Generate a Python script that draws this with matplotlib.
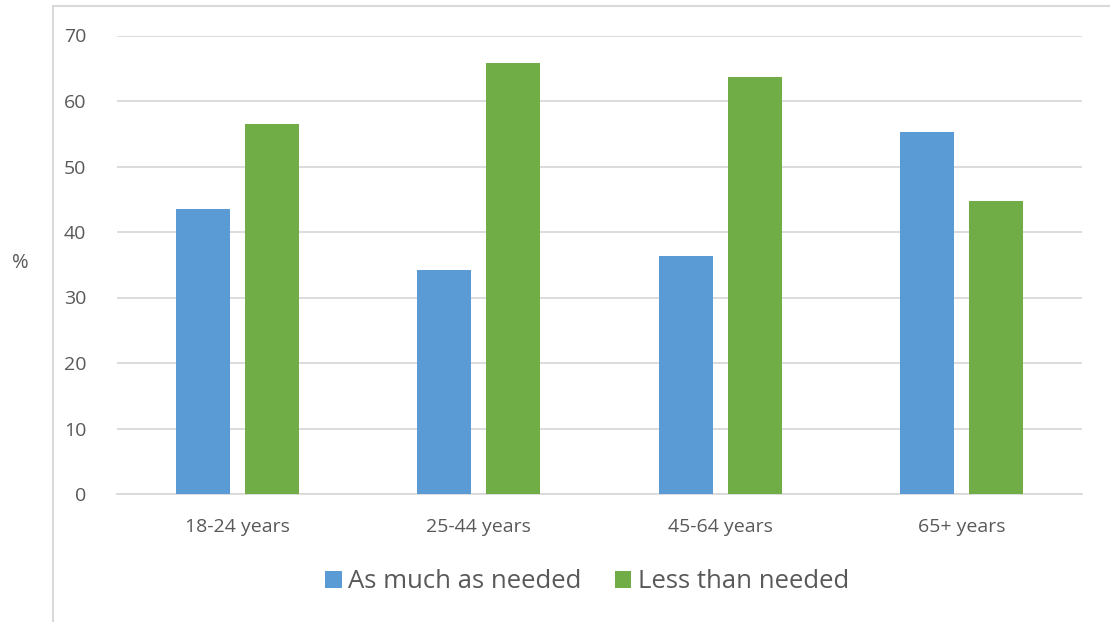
import numpy as np
import matplotlib.pyplot as plt
from matplotlib.patches import Rectangle

categories = ['18-24 years', '25-44 years', '45-64 years', '65+ years']
as_much = [43.5, 34.2, 36.3, 55.3]
less_than = [56.5, 65.8, 63.7, 44.7]
series_names = ['As much as needed', 'Less than needed']

plt.rcParams['font.family'] = ['Open Sans', 'DejaVu Sans']
txt = '#595959'
grid = '#D9D9D9'

W, H = 1110, 622
fig = plt.figure(figsize=(W / 100, H / 100), dpi=100)
ax = fig.add_axes([117 / W, 1 - 494 / H, (1082 - 117) / W, (494 - 35.5) / H])

# chart border (only left and top visible in the crop)
fig.patches.append(Rectangle((53 / W, -0.1), 1.2, 1.1 - 6 / H, transform=fig.transFigure,
                             fill=False, edgecolor=grid, linewidth=1.5, zorder=0))

x = np.arange(len(categories))
w = 0.224
ax.bar(x - 0.143, as_much, w, color='#5B9BD5', label=series_names[0], zorder=3)
ax.bar(x + 0.143, less_than, w, color='#70AD47', label=series_names[1], zorder=3)

ax.set_xlim(-0.5, len(categories) - 0.5)
ax.set_ylim(0, 70)
ax.set_yticks(range(0, 71, 10))
ax.set_xticks(x)
ax.set_xticklabels(categories)
ax.yaxis.grid(True, color=grid, linewidth=1.3, zorder=0)
for s in ['top', 'right', 'left']:
    ax.spines[s].set_visible(False)
ax.spines['bottom'].set_color(grid)
ax.spines['bottom'].set_linewidth(1.3)
ax.tick_params(axis='both', length=0, labelsize=14, colors=txt)
ax.tick_params(axis='y', pad=22)
ax.tick_params(axis='x', pad=17)

fig.text(20 / W, 1 - 263 / H, '%', fontsize=14.5, color=txt, ha='center', va='center')

fig.legend(loc='center', bbox_to_anchor=(587 / W, 1 - 582 / H), ncol=2, frameon=False,
           fontsize=18.5, labelcolor=txt, handlelength=0.65, handleheight=0.65,
           handletextpad=0.25, columnspacing=1.3)

fig.savefig('out.png', dpi=100, facecolor='white')
